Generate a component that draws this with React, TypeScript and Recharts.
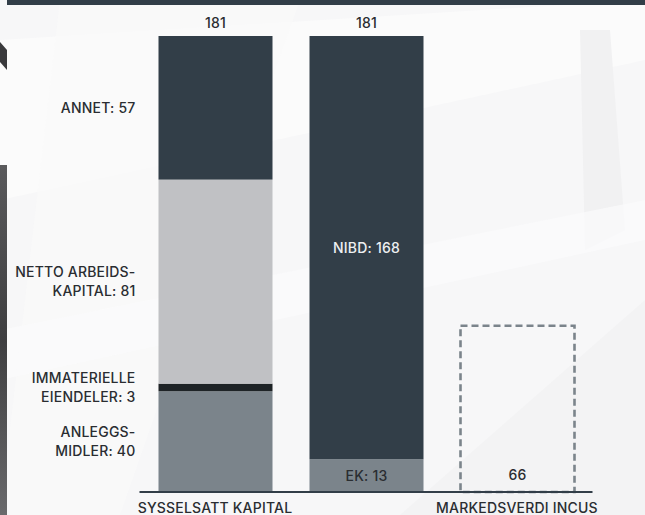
import React from 'react';
import { BarChart, Bar, XAxis, YAxis } from 'recharts';

const categories = ['SYSSELSATT KAPITAL', '', 'MARKEDSVERDI INCUS'];
const anleggsmidler = [40, null, null];
const immaterielleEiendeler = [3, null, null];
const nettoArbeidskapital = [81, null, null];
const annet = [57, null, null];
const egenkapital = [null, 13, null];
const nibd = [null, 168, null];
const markedsverdi = [null, null, 66];
const totals = [181, 181, null];
const yMax = 181;

const data = categories.map((cat, i) => ({
  cat,
  anlegg: anleggsmidler[i],
  ek: egenkapital[i],
  immat: immaterielleEiendeler[i],
  netto: nettoArbeidskapital[i],
  nibd: nibd[i],
  annet: annet[i],
  incus: markedsverdi[i],
  total: totals[i],
}));

const FONT = 'Inter, "Noto Sans", sans-serif';
const TEXT = '#2a2d31';
const DARK = '#323e48';
const LIGHT = '#c0c1c4';
const MID = '#7b848b';
const BLACKISH = '#1e2326';

const valid = (p: any, key: string) =>
  p && p.payload && p.payload[key] != null && Number.isFinite(p.y) && p.height > 0;

const leftLabel = (lines: string[], xRight: number, cy: number) => {
  const lh = 19;
  const start = cy + 5 - ((lines.length - 1) * lh) / 2;
  return (
    <text
      x={xRight}
      y={start}
      textAnchor="end"
      fontFamily={FONT}
      fontSize={14}
      fontWeight={500}
      letterSpacing={0.2}
      fill={TEXT}
    >
      {lines.map((l, i) => (
        <tspan key={i} x={xRight} y={start + i * lh}>
          {l}
        </tspan>
      ))}
    </text>
  );
};

const centerText = (s: string, cx: number, cy: number, fill: string) => (
  <text
    x={cx}
    y={cy + 5}
    textAnchor="middle"
    fontFamily={FONT}
    fontSize={14}
    fontWeight={500}
    letterSpacing={0.2}
    fill={fill}
  >
    {s}
  </text>
);

const segShape =
  (key: string, fill: string, labelFn?: (p: any, v: number) => React.ReactNode) =>
  (p: any) => {
    if (!valid(p, key)) return <g />;
    const v = p.payload[key];
    return (
      <g>
        <rect x={p.x} y={p.y} width={p.width} height={p.height} fill={fill} />
        {labelFn ? labelFn(p, v) : null}
      </g>
    );
  };

const totalLabel = (p: any) =>
  p.payload.total != null ? centerText(String(p.payload.total), p.x + p.width / 2, p.y - 13, TEXT) : null;

const dashedShape = (p: any) => {
  if (!valid(p, 'incus')) return <g />;
  const v = p.payload.incus;
  return (
    <g>
      <rect
        x={p.x}
        y={p.y}
        width={p.width}
        height={p.height}
        fill="none"
        stroke={MID}
        strokeWidth={2.6}
        strokeDasharray="7 4"
      />
      {centerText(String(v), p.x + p.width / 2, p.y + p.height - 17, TEXT)}
    </g>
  );
};

const Background = () => (
  <svg width={645} height={515} style={{ position: 'absolute', left: 0, top: 0 }}>
    <defs>
      <linearGradient id="strip" x1="0" y1="0" x2="0" y2="1">
        <stop offset="0" stopColor="#5a5a5c" />
        <stop offset="0.5" stopColor="#3e3e40" />
        <stop offset="1" stopColor="#6a6a6c" />
      </linearGradient>
    </defs>
    <rect x={0} y={0} width={645} height={515} fill="#f7f7f8" />
    <polygon points="0,40 645,0 645,60 0,200" fill="#fbfbfb" />
    <polygon points="60,0 300,0 120,515 0,515" fill="#fafafa" opacity={0.6} />
    <polygon points="580,30 610,30 625,230 585,250" fill="#f1f1f2" />
    <polygon points="400,515 645,300 645,515" fill="#f3f3f4" />
    <polygon points="0,330 645,200 645,240 0,380" fill="#fbfbfc" opacity={0.7} />
    <polygon points="0,42 7,50 7,70 0,62" fill="#3a3a3c" />
    <rect x={0} y={165} width={7} height={350} fill="url(#strip)" />
    <rect x={7} y={0} width={638} height={5} fill={DARK} />
  </svg>
);

export default function App() {
  return (
    <div style={{ position: 'absolute', left: 0, top: 0, width: 645, height: 515 }}>
      <Background />
      <div style={{ position: 'absolute', left: 0, top: 0 }}>
        <BarChart
          width={645}
          height={515}
          data={data}
          margin={{ top: 36, right: 52.5, left: 139.5, bottom: 0 }}
          barSize={114}
        >
          <YAxis hide domain={[0, yMax]} width={0} />
          <XAxis
            dataKey="cat"
            height={23}
            interval={0}
            tickLine={false}
            tickMargin={5}
            axisLine={{ stroke: DARK, strokeWidth: 2 }}
            tick={{ fill: TEXT, fontSize: 14, fontFamily: FONT, fontWeight: 500, letterSpacing: 0.2 }}
          />
          <Bar
            dataKey="anlegg"
            stackId="s"
            isAnimationActive={false}
            shape={segShape('anlegg', MID, (p, v) =>
              leftLabel(['ANLEGGS-', `MIDLER: ${v}`], p.x - 23, p.y + p.height / 2)
            )}
          />
          <Bar
            dataKey="ek"
            stackId="s"
            isAnimationActive={false}
            shape={segShape('ek', MID, (p, v) =>
              centerText(`EK: ${v}`, p.x + p.width / 2, p.y + p.height / 2, TEXT)
            )}
          />
          <Bar
            dataKey="immat"
            stackId="s"
            isAnimationActive={false}
            shape={segShape('immat', BLACKISH, (p, v) =>
              leftLabel(['IMMATERIELLE', `EIENDELER: ${v}`], p.x - 23, p.y + p.height / 2)
            )}
          />
          <Bar
            dataKey="netto"
            stackId="s"
            isAnimationActive={false}
            shape={segShape('netto', LIGHT, (p, v) =>
              leftLabel(['NETTO ARBEIDS-', `KAPITAL: ${v}`], p.x - 23, p.y + p.height / 2)
            )}
          />
          <Bar
            dataKey="nibd"
            stackId="s"
            isAnimationActive={false}
            shape={segShape('nibd', DARK, (p, v) => (
              <g>
                {centerText(`NIBD: ${v}`, p.x + p.width / 2, p.y + p.height / 2, '#eef0f2')}
                {totalLabel(p)}
              </g>
            ))}
          />
          <Bar
            dataKey="annet"
            stackId="s"
            isAnimationActive={false}
            shape={segShape('annet', DARK, (p, v) => (
              <g>
                {leftLabel([`ANNET: ${v}`], p.x - 23, p.y + p.height / 2)}
                {totalLabel(p)}
              </g>
            ))}
          />
          <Bar dataKey="incus" stackId="s" isAnimationActive={false} shape={dashedShape} />
        </BarChart>
      </div>
    </div>
  );
}
